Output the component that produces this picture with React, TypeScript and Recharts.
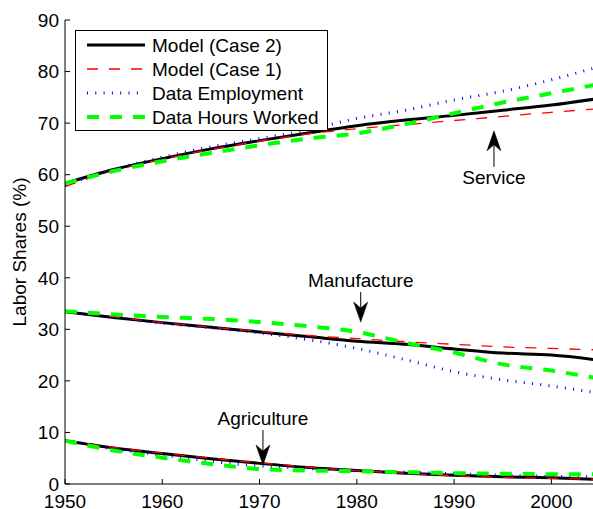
import React from 'react';
import { LineChart, Line, XAxis, YAxis, ReferenceDot, Legend } from 'recharts';

const FONT = '"Liberation Sans", Arial, Helvetica, sans-serif';

const years = [1950, 1955, 1960, 1965, 1970, 1975, 1980, 1985, 1990, 1995, 2000, 2005];

const serviceModel2 = [58.3, 61.0, 63.1, 65.0, 66.6, 68.1, 69.5, 70.6, 71.5, 72.5, 73.5, 74.8];
const serviceModel1 = [57.7, 60.8, 63.0, 64.9, 66.5, 67.9, 68.9, 69.7, 70.5, 71.3, 72.1, 72.8];
const serviceEmployment = [58.0, 61.0, 63.4, 65.4, 67.0, 68.7, 70.9, 72.5, 74.5, 76.2, 78.4, 81.0];
const serviceHours = [58.3, 60.7, 62.6, 64.2, 65.7, 67.0, 68.0, 69.8, 71.9, 74.0, 75.8, 77.6];

const manufModel2 = [33.4, 32.3, 31.3, 30.4, 29.5, 28.6, 27.7, 27.1, 26.2, 25.4, 25.0, 24.0];
const manufModel1 = [33.5, 32.4, 31.3, 30.4, 29.6, 28.8, 28.2, 27.6, 27.1, 26.6, 26.3, 26.0];
const manufEmployment = [33.5, 32.3, 31.2, 30.3, 29.3, 28.0, 26.3, 24.1, 21.8, 20.2, 19.0, 17.6];
const manufHours = [33.5, 32.9, 32.4, 32.0, 31.4, 30.6, 29.5, 27.4, 25.5, 23.2, 22.0, 20.4];

const agriModel2 = [8.4, 7.0, 5.9, 4.9, 4.0, 3.2, 2.6, 2.1, 1.7, 1.4, 1.2, 0.9];
const agriModel1 = [8.5, 7.1, 6.0, 5.0, 4.1, 3.3, 2.6, 2.1, 1.6, 1.3, 1.1, 0.9];
const agriEmployment = [8.4, 6.8, 5.6, 4.4, 3.5, 3.0, 2.6, 2.3, 2.0, 1.7, 1.5, 1.4];
const agriHours = [8.4, 6.5, 5.1, 3.9, 2.9, 2.6, 2.5, 2.3, 2.1, 2.0, 1.9, 1.9];

const xTicks = [1950, 1960, 1970, 1980, 1990, 2000];
const yTicks = [0, 10, 20, 30, 40, 50, 60, 70, 80, 90];

const legendNames = ['Model (Case 2)', 'Model (Case 1)', 'Data Employment', 'Data Hours Worked'];

const data = years.map((year, i) => ({
  year,
  sM2: serviceModel2[i],
  sM1: serviceModel1[i],
  sE: serviceEmployment[i],
  sH: serviceHours[i],
  mM2: manufModel2[i],
  mM1: manufModel1[i],
  mE: manufEmployment[i],
  mH: manufHours[i],
  aM2: agriModel2[i],
  aM1: agriModel1[i],
  aE: agriEmployment[i],
  aH: agriHours[i],
}));

const styles = [
  { stroke: '#000000', strokeWidth: 3, dash: undefined as string | undefined },
  { stroke: '#ff0000', strokeWidth: 1.3, dash: '11 11' },
  { stroke: '#0000ff', strokeWidth: 3, dash: '1 7.3' },
  { stroke: '#00ff00', strokeWidth: 4, dash: '12 11' },
];

const seriesKeys = [
  ['sM2', 'mM2', 'aM2'],
  ['sM1', 'mM1', 'aM1'],
  ['sE', 'mE', 'aE'],
  ['sH', 'mH', 'aH'],
];

function ArrowShape(props: any) {
  const { cx, cy, dir, shaft, text, textDy } = props;
  if (cx == null || cy == null) return null;
  const s = dir === 'up' ? 1 : -1; // up: tip at top, shaft goes down
  const headLen = 20;
  const half = 7;
  const notch = 6;
  const tipY = cy;
  const baseY = cy + s * headLen;
  const notchY = cy + s * (headLen - notch);
  const endY = cy + s * shaft;
  return (
    <g>
      <line x1={cx} y1={notchY} x2={cx} y2={endY} stroke="#000" strokeWidth={1} />
      <path
        d={`M ${cx} ${tipY} L ${cx - half} ${baseY} L ${cx} ${notchY} L ${cx + half} ${baseY} Z`}
        fill="#000"
        stroke="#000"
        strokeWidth={0.5}
      />
      <text x={cx} y={cy + textDy} textAnchor="middle" fontFamily={FONT} fontSize={19} fill="#000">
        {text}
      </text>
    </g>
  );
}

function LegendBox() {
  const w = 253;
  const h = 101;
  return (
    <svg width={w} height={h} style={{ display: 'block' }}>
      <rect x={0.5} y={0.5} width={w - 1} height={h - 1} fill="#fff" stroke="#000" strokeWidth={1} />
      {legendNames.map((name, i) => {
        const cy = 15 + i * 24;
        const st = styles[i];
        return (
          <g key={name}>
            <line
              x1={12}
              x2={70}
              y1={cy}
              y2={cy}
              stroke={st.stroke}
              strokeWidth={st.strokeWidth}
              strokeDasharray={st.dash}
            />
            <text x={77} y={cy + 6.8} fontFamily={FONT} fontSize={19} fill="#000">
              {name}
            </text>
          </g>
        );
      })}
    </svg>
  );
}

export default function App() {
  return (
    <div
      style={{
        position: 'absolute',
        left: 0,
        top: 0,
        width: 593,
        height: 509,
        overflow: 'hidden',
        background: '#fff',
      }}
    >
      <LineChart width={620} height={509} data={data} margin={{ top: 20, right: 20, bottom: 0, left: 0 }}>
        <XAxis
          dataKey="year"
          type="number"
          domain={[1950, 2005]}
          ticks={xTicks}
          allowDataOverflow
          height={25}
          tickSize={-5}
          tickMargin={16}
          axisLine={{ stroke: '#000', strokeWidth: 1 }}
          tickLine={{ stroke: '#000', strokeWidth: 1 }}
          tick={{ fill: '#000', fontSize: 19, fontFamily: FONT }}
          interval={0}
        />
        <XAxis
          xAxisId="top"
          orientation="top"
          dataKey="year"
          type="number"
          domain={[1950, 2005]}
          ticks={xTicks}
          allowDataOverflow
          height={0}
          tickSize={-5}
          tick={false}
          axisLine={{ stroke: '#000', strokeWidth: 1 }}
          tickLine={{ stroke: '#000', strokeWidth: 1 }}
        />
        <YAxis
          type="number"
          domain={[0, 90]}
          ticks={yTicks}
          width={65}
          tickSize={-5}
          tickMargin={11}
          interval={0}
          axisLine={{ stroke: '#000', strokeWidth: 1 }}
          tickLine={{ stroke: '#000', strokeWidth: 1 }}
          tick={{ fill: '#000', fontSize: 19, fontFamily: FONT }}
          label={{
            content: () => (
              <text
                x={25.6}
                y={252}
                transform="rotate(-90 25.6 252)"
                textAnchor="middle"
                fontFamily={FONT}
                fontSize={19}
                fill="#000"
              >
                Labor Shares (%)
              </text>
            ),
          }}
        />
        {seriesKeys.map((keys, si) =>
          keys.map((k) => (
            <Line
              key={k}
              dataKey={k}
              type="monotone"
              stroke={styles[si].stroke}
              strokeWidth={styles[si].strokeWidth}
              strokeDasharray={styles[si].dash}
              dot={false}
              activeDot={false}
              isAnimationActive={false}
              legendType="none"
            />
          ))
        )}
        <ReferenceDot
          x={1994.1}
          y={68.5}
          r={0}
          shape={(p: any) => <ArrowShape {...p} dir="up" shaft={36} text="Service" textDy={53} />}
        />
        <ReferenceDot
          x={1980.4}
          y={31.4}
          r={0}
          shape={(p: any) => <ArrowShape {...p} dir="down" shaft={30} text="Manufacture" textDy={-35} />}
        />
        <ReferenceDot
          x={1970.35}
          y={3.7}
          r={0}
          shape={(p: any) => <ArrowShape {...p} dir="down" shaft={35} text="Agriculture" textDy={-40} />}
        />
        <Legend
          layout="vertical"
          align="center"
          verticalAlign="middle"
          wrapperStyle={{ position: 'absolute', left: 75, top: 30, width: 253, height: 101 }}
          content={() => <LegendBox />}
        />
      </LineChart>
    </div>
  );
}
